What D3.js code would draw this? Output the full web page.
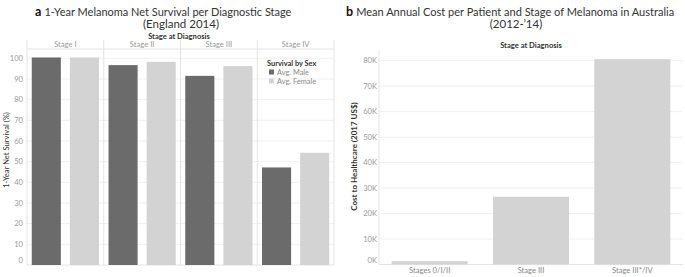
<!DOCTYPE html>
<html><head><meta charset="utf-8">
<script src="https://cdn.jsdelivr.net/npm/d3@7/dist/d3.min.js"></script>
<style>
html,body{margin:0;padding:0;background:#fff;}
svg{display:block;font-family:Lato,"Open Sans",sans-serif;}
</style></head>
<body><svg id="c" width="685" height="277"></svg>
<script>
// ---- data ----
const stages = ["Stage I", "Stage II", "Stage III", "Stage IV"];
const sexes = ["Avg. Male", "Avg. Female"];
const maleSurvival = [100.4, 96.7, 91.5, 47.2];
const femaleSurvival = [100.4, 98.3, 96.2, 54.3];
const survivalTicks = [0, 10, 20, 30, 40, 50, 60, 70, 80, 90, 100];

const costCategories = ["Stages 0/I/II", "Stage III", "Stage III*/IV"];
const costValues = [1300, 26600, 80600];
const costTicks = [0, 10000, 20000, 30000, 40000, 50000, 60000, 70000, 80000];

const sexColors = ["#6b6b6b", "#d3d3d3"];

const svg = d3.select("#c");
const gridCol = "#f0f0f0", frameCol = "#e4e4e4", tickCol = "#9a9a9a";
const fs = 7.6;

// ---- titles ----
function title(x, letter, l1, l2, cx, w) {
  const t = svg.append("text").attr("x", x).attr("y", 15.5).attr("font-size", 11).attr("fill", "#333");
  t.append("tspan").attr("font-weight", "bold").attr("font-size", 12.5).attr("fill", "#111").text(letter + " ");
  t.append("tspan").attr("textLength", w).attr("lengthAdjust", "spacingAndGlyphs").text(l1);
  svg.append("text").attr("x", cx).attr("y", 27.5).attr("text-anchor", "middle")
    .attr("font-size", 11.5).attr("fill", "#333").text(l2);
}
title(35, "a", "1-Year Melanoma Net Survival per Diagnostic Stage", "(England 2014)", 181, 247);
title(346, "b", "Mean Annual Cost per Patient and Stage of Melanoma in Australia", "(2012-\u201914)", 516, 318);

// ---- panel a ----
const aL = 27, aR = 334, aTop = 49, aBot = 265;
const xStage = d3.scaleBand().domain(stages).range([aL, aR]);
const xSex = d3.scaleBand().domain(sexes).range([0, xStage.bandwidth()]).paddingInner(0.237).paddingOuter(0.125);
const yA = d3.scaleLinear().domain([0, 100]).range([aBot, 58.3]);

const ga = svg.append("g");
ga.selectAll(".g").data(survivalTicks.filter(d => d > 0)).join("line")
  .attr("x1", aL).attr("x2", aR).attr("y1", d => yA(d)).attr("y2", d => yA(d))
  .attr("stroke", gridCol).attr("stroke-width", 1);
svg.append("text").attr("x", 179).attr("y", 38.5).attr("text-anchor", "middle")
  .attr("font-size", fs).attr("font-weight", "bold").attr("fill", "#333").text("Stage at Diagnosis");
ga.selectAll(".h").data(stages).join("text")
  .attr("x", d => xStage(d) + xStage.bandwidth() / 2).attr("y", 46.5).attr("text-anchor", "middle")
  .attr("font-size", fs).attr("fill", "#999").text(d => d);
const bounds = stages.map(s => xStage(s)).concat([aR]);
ga.selectAll(".v").data(bounds).join("line")
  .attr("x1", d => d).attr("x2", d => d).attr("y1", 40).attr("y2", aBot)
  .attr("stroke", frameCol).attr("stroke-width", 1);
ga.append("line").attr("x1", aL).attr("x2", aR).attr("y1", aTop).attr("y2", aTop).attr("stroke", frameCol);
ga.append("line").attr("x1", aL).attr("x2", aR).attr("y1", aBot).attr("y2", aBot).attr("stroke", frameCol);
const survData = [];
stages.forEach((s, i) => {
  survData.push({ stage: s, sex: sexes[0], v: maleSurvival[i], c: sexColors[0] });
  survData.push({ stage: s, sex: sexes[1], v: femaleSurvival[i], c: sexColors[1] });
});
ga.selectAll(".b").data(survData).join("rect")
  .attr("x", d => xStage(d.stage) + xSex(d.sex)).attr("width", xSex.bandwidth())
  .attr("y", d => yA(d.v)).attr("height", d => yA(0) - yA(d.v))
  .attr("fill", d => d.c);
ga.selectAll(".t").data(survivalTicks).join("text")
  .attr("x", 23).attr("y", d => d === 0 ? yA(0) - 5 : yA(d)).attr("dy", "0.35em")
  .attr("text-anchor", "end").attr("font-size", fs).attr("fill", tickCol).text(d => d);
svg.append("text").attr("transform", "translate(9,150) rotate(-90)").attr("text-anchor", "middle")
  .attr("font-size", fs).attr("fill", "#333").text("1-Year Net Survival (%)");
const lg = svg.append("g").attr("transform", "translate(267,66)");
lg.append("text").attr("x", 0).attr("y", 0).attr("font-size", 7.4).attr("font-weight", "bold").attr("fill", "#333").text("Survival by Sex");
sexes.forEach((s, i) => {
  lg.append("rect").attr("x", 2).attr("y", 3.5 + i * 9).attr("width", 5).attr("height", 5).attr("fill", sexColors[i]);
  lg.append("text").attr("x", 10).attr("y", 8.6 + i * 9).attr("font-size", 7.4).attr("fill", "#888").text(s);
});

// ---- panel b ----
const bL = 379, bR = 683, bTop = 50, bBot = 264.5;
const xB = d3.scaleBand().domain(costCategories).range([bL, bR]).paddingInner(0.25).paddingOuter(0.125);
const yB = d3.scaleLinear().domain([0, 80000]).range([bBot, 60.7]);
const gb = svg.append("g");
gb.selectAll(".g").data(costTicks.filter(d => d > 0)).join("line")
  .attr("x1", bL).attr("x2", bR).attr("y1", d => yB(d)).attr("y2", d => yB(d))
  .attr("stroke", gridCol);
gb.append("line").attr("x1", bL).attr("x2", bL).attr("y1", bTop).attr("y2", bBot).attr("stroke", frameCol);
gb.append("line").attr("x1", bL).attr("x2", bR).attr("y1", bBot).attr("y2", bBot).attr("stroke", frameCol);
gb.selectAll(".b").data(costCategories).join("rect")
  .attr("x", d => xB(d)).attr("width", xB.bandwidth())
  .attr("y", (d, i) => yB(costValues[i])).attr("height", (d, i) => yB(0) - yB(costValues[i]))
  .attr("fill", "#d3d3d3");
gb.selectAll(".t").data(costTicks).join("text")
  .attr("x", 377).attr("y", d => d === 0 ? yB(0) - 4.5 : yB(d)).attr("dy", "0.35em")
  .attr("text-anchor", "end").attr("font-size", fs).attr("fill", tickCol).text(d => d3.format("d")(d / 1000) + "K");
gb.selectAll(".c").data(costCategories).join("text")
  .attr("x", d => xB(d) + xB.bandwidth() / 2).attr("y", 272.5).attr("text-anchor", "middle")
  .attr("font-size", fs).attr("fill", "#888").text(d => d);
svg.append("text").attr("x", (bL + bR) / 2).attr("y", 48).attr("text-anchor", "middle")
  .attr("font-size", fs).attr("font-weight", "bold").attr("fill", "#333").text("Stage at Diagnosis");
svg.append("text").attr("transform", "translate(357,156.5) rotate(-90)").attr("text-anchor", "middle")
  .attr("font-size", 8).attr("font-weight", "bold").attr("fill", "#333").text("Cost to Healthcare (2017 US$)");
</script></body></html>
